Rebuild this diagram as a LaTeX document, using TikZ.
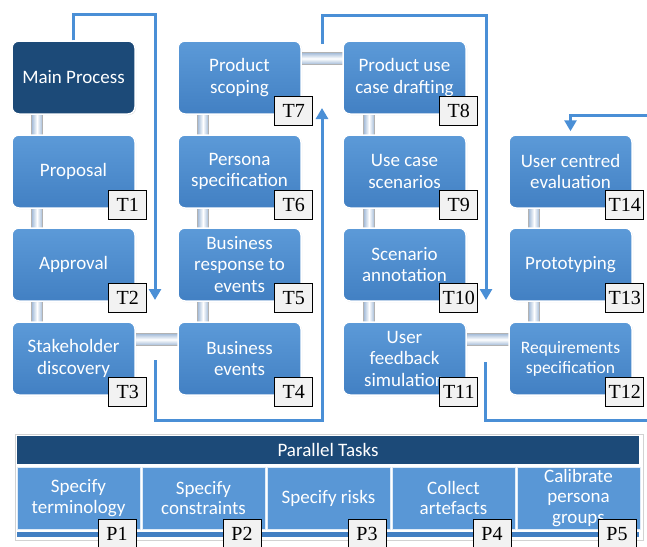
\documentclass[tikz,border=0pt]{standalone}
\usepackage{fontspec}
\setmainfont{Carlito}
\newfontfamily\tagfont{Liberation Serif}
\usepackage{tikz}
\usetikzlibrary{arrows.meta,shadows,backgrounds}
\definecolor{boxtop}{RGB}{92,154,216}
\definecolor{boxbot}{RGB}{66,128,195}
\definecolor{navy}{RGB}{28,74,120}
\definecolor{flowblue}{RGB}{74,143,214}
\definecolor{pipeblue}{RGB}{160,185,215}

\begin{document}
\begin{tikzpicture}[x=1pt,y=-1pt]
			\tikzstyle{task}=[rounded corners=7pt,draw=white,line width=1.5pt,top color=boxtop,bottom color=boxbot,text=white,minimum width=123pt,minimum height=73pt,align=center,inner sep=2pt,font=\fontsize{19}{21.5}\selectfont,drop shadow={shadow xshift=1pt,shadow yshift=-1pt,opacity=0.25}]
			\tikzstyle{mainbox}=[task,top color=navy,bottom color=navy]
			\tikzstyle{tag}=[draw=black,line width=0.8pt,fill=white!95!black,minimum width=38pt,minimum height=29pt,inner sep=0pt,font=\tagfont\fontsize{20}{20}\selectfont]
			\tikzstyle{vpipe}=[draw=gray!60,line width=0.6pt,left color=pipeblue,right color=pipeblue,middle color=white]
			\tikzstyle{hpipe}=[draw=gray!60,line width=0.6pt,top color=pipeblue,bottom color=pipeblue,middle color=white]
			\tikzstyle{flow}=[draw=flowblue,line width=3pt,-{Triangle[width=12pt,length=11pt]}]
			\tikzstyle{flowline}=[draw=flowblue,line width=3pt]
			\tikzstyle{ptask}=[draw=white!80!boxtop,line width=1pt,fill=boxtop!90!boxbot,text=white,minimum width=123pt,minimum height=62pt,align=center,inner sep=1pt,font=\fontsize{19}{20.5}\selectfont]
			\useasboundingbox (0,0) rectangle (647,546);

			% main process column
			\node (main)[mainbox] at (73.5,77.5) {Main Process};
			\node (prop)[task] at (73.5,171.5) {Proposal};
			\node (appr)[task] at (73.5,264.5) {Approval};
			\node (stake)[task] at (73.5,358.5) {Stakeholder\\discovery};
			\node (bev)[task] at (239.5,358.5) {Business\\events};
			\node (bresp)[task] at (239.5,264.5) {Business\\response to\\events};
			\node (pers)[task] at (239.5,171.5) {Persona\\specification};
			\node (scope)[task] at (239.5,77.5) {Product\\scoping};
			\node (draft)[task] at (404.5,77.5) {Product use\\case drafting};
			\node (scen)[task] at (404.5,171.5) {Use case\\scenarios};
			\node (annot)[task] at (404.5,264.5) {Scenario\\annotation};
			\node (simul)[task] at (404.5,358.5) {User\\feedback\\simulation};
			\node (reqs)[task,font=\fontsize{17.5}{20}\selectfont] at (570.5,358.5) {Requirements\\specification};
			\node (proto)[task] at (570.5,264.5) {Prototyping};
			\node (eval)[task] at (570.5,171.5) {User centred\\evaluation};

			\node (t1)[tag] at ([xshift=-8pt,yshift=3.5pt]prop.south east) {T1};
			\node (t2)[tag] at ([xshift=-8pt,yshift=3.5pt]appr.south east) {T2};
			\node (t3)[tag] at ([xshift=-8pt,yshift=3.5pt]stake.south east) {T3};
			\node (t4)[tag] at ([xshift=-8pt,yshift=3.5pt]bev.south east) {T4};
			\node (t5)[tag] at ([xshift=-8pt,yshift=3.5pt]bresp.south east) {T5};
			\node (t6)[tag] at ([xshift=-8pt,yshift=3.5pt]pers.south east) {T6};
			\node (t7)[tag] at ([xshift=-8pt,yshift=3.5pt]scope.south east) {T7};
			\node (t8)[tag] at ([xshift=-8pt,yshift=3.5pt]draft.south east) {T8};
			\node (t9)[tag] at ([xshift=-8pt,yshift=3.5pt]scen.south east) {T9};
			\node (t10)[tag] at ([xshift=-8pt,yshift=3.5pt]annot.south east) {T10};
			\node (t11)[tag] at ([xshift=-8pt,yshift=3.5pt]simul.south east) {T11};
			\node (t12)[tag] at ([xshift=-8pt,yshift=3.5pt]reqs.south east) {T12};
			\node (t13)[tag] at ([xshift=-8pt,yshift=3.5pt]proto.south east) {T13};
			\node (t14)[tag] at ([xshift=-8pt,yshift=3.5pt]eval.south east) {T14};

			\begin{pgfonlayer}{background}
				\path[vpipe] ([xshift=-42pt]main.center) rectangle ([xshift=-31pt]stake.center);
				\path[vpipe] ([xshift=-42pt]scope.center) rectangle ([xshift=-31pt]bev.center);
				\path[vpipe] ([xshift=-41pt]draft.center) rectangle ([xshift=-30pt]simul.center);
				\path[vpipe] ([xshift=-42pt]eval.center) rectangle ([xshift=-31pt]reqs.center);
				\path[hpipe] ([yshift=13pt]stake.center) rectangle ([yshift=25pt]bev.center);
				\path[hpipe] ([yshift=13pt]scope.center) rectangle ([yshift=25pt]draft.center);
				\path[hpipe] ([yshift=13pt]simul.center) rectangle ([yshift=25pt]reqs.center);
			\end{pgfonlayer}

			% flow arrows
			\coordinate (a1corner) at (155,14);
			\coordinate (a1end) at (155,300);
			\coordinate (a2start) at (155,360);
			\coordinate (a2corner) at (322,420);
			\coordinate (a2end) at (322,108);
			\coordinate (a3start) at (322,44);
			\coordinate (a3corner) at (486,15);
			\coordinate (a3end) at (486,300);
			\coordinate (a4start) at (485,362);
			\coordinate (a4end) at (647,420);
			\coordinate (a5start) at (647,115);
			\draw[flow] (main.north) |- (a1corner) -- (a1end);
			\draw[flow] (a2start) |- (a2corner) -- (a2end);
			\draw[flow] (a3start) |- (a3corner) -- (a3end);
			\draw[flowline] (a4start) |- (a4end);
			\draw[flow] (a5start) -| ([yshift=3pt]eval.north);

			% parallel tasks
			\path[fill=white,draw=gray!35,line width=0.8pt,drop shadow={shadow xshift=1pt,shadow yshift=-1pt,opacity=0.2}] (15,434) rectangle (643,540);
			\fill[boxbot] (17,532) rectangle (639,537);
			\node (par)[fill=navy,text=white,minimum width=622pt,minimum height=28pt,inner sep=0pt,font=\fontsize{19}{20}\selectfont] at (328,450) {Parallel Tasks};
			\node (p1b)[ptask] at (78.5,498) {Specify\\terminology};
			\node (p2b)[ptask] at (203.5,498) {Specify\\constraints};
			\node (p3b)[ptask] at (328.5,498) {Specify risks};
			\node (p4b)[ptask] at (453.5,498) {Collect\\artefacts};
			\node (p5b)[ptask] at (578.5,498) {Calibrate\\persona\\groups};
			\node (p1)[tag] at ([xshift=-23.5pt,yshift=-4.5pt]p1b.south east) {P1};
			\node (p2)[tag] at ([xshift=-23.5pt,yshift=-4.5pt]p2b.south east) {P2};
			\node (p3)[tag] at ([xshift=-23.5pt,yshift=-4.5pt]p3b.south east) {P3};
			\node (p4)[tag] at ([xshift=-23.5pt,yshift=-4.5pt]p4b.south east) {P4};
			\node (p5)[tag] at ([xshift=-23.5pt,yshift=-4.5pt]p5b.south east) {P5};

		\end{tikzpicture}
\end{document}
